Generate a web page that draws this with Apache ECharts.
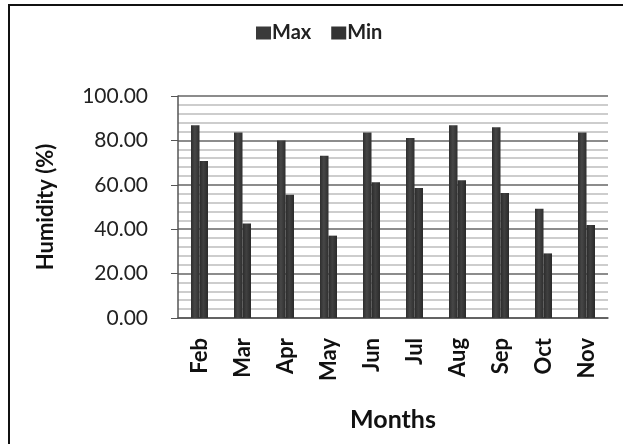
<!DOCTYPE html>
<html>
<head>
<meta charset="utf-8">
<script src="https://cdn.jsdelivr.net/npm/echarts@6/dist/echarts.min.js"></script>
<style>
  html, body { margin: 0; padding: 0; background: #fff; }
  #frame { position: absolute; left: 8px; top: 4px; width: 640px; height: 460px; border: 2px solid #111; box-sizing: border-box; }
  #chart { position: absolute; left: 0; top: 0; width: 623px; height: 444px; }
</style>
</head>
<body>
<div id="frame"></div>
<div id="chart"></div>
<script>
// Monthly relative humidity, maximum and minimum (%)
const months = ['Feb', 'Mar', 'Apr', 'May', 'Jun', 'Jul', 'Aug', 'Sep', 'Oct', 'Nov'];
const maxHumidity = [86.8, 83.6, 79.9, 73.1, 83.6, 81.1, 86.8, 85.9, 49.2, 83.6];
const minHumidity = [70.7, 42.6, 55.5, 37.1, 61.1, 58.6, 62.0, 56.3, 29.1, 41.9];

const font = 'Lato, "Open Sans", "DejaVu Sans", sans-serif';

function barFill(edge, mid) {
  return new echarts.graphic.LinearGradient(0, 0, 1, 0, [
    { offset: 0, color: edge },
    { offset: 0.45, color: mid },
    { offset: 1, color: edge }
  ]);
}

const chart = echarts.init(document.getElementById('chart'), null, { renderer: 'canvas' });
chart.setOption({
  animation: false,
  backgroundColor: 'transparent',
  legend: {
    top: 18,
    left: 251,
    itemWidth: 15,
    itemHeight: 13,
    itemGap: 20,
    icon: 'rect',
    textStyle: { fontFamily: font, fontSize: 20, fontWeight: 'bold', color: '#222', padding: [0, 0, 0, -4] },
    data: [
      { name: 'Max', itemStyle: { color: '#3a3a3a' } },
      { name: 'Min', itemStyle: { color: '#333333' } }
    ]
  },
  grid: { left: 178, right: 15, top: 96, bottom: 126, containLabel: false },
  xAxis: {
    type: 'category',
    data: months,
    name: 'Months',
    nameLocation: 'middle',
    nameGap: 89,
    nameTextStyle: { fontFamily: font, fontSize: 25, fontWeight: 'bold', color: '#111' },
    axisLine: { lineStyle: { color: '#555', width: 1.5 } },
    axisTick: { show: false },
    axisLabel: {
      rotate: 90,
      margin: 20,
      fontFamily: font,
      fontSize: 22,
      fontWeight: 'bold',
      color: '#111'
    }
  },
  yAxis: {
    type: 'value',
    min: 0,
    max: 100,
    interval: 20,
    name: 'Humidity (%)',
    nameLocation: 'middle',
    nameGap: 121,
    nameRotate: 90,
    nameTextStyle: { fontFamily: font, fontSize: 22, fontWeight: 'bold', color: '#111' },
    axisLine: { show: true, lineStyle: { color: '#555', width: 1.5 } },
    axisTick: { show: true, length: 7, lineStyle: { color: '#555' } },
    minorTick: { show: true, splitNumber: 5, length: 0 },
    axisLabel: {
      margin: 30,
      fontFamily: font,
      fontSize: 21,
      color: '#222',
      formatter: v => v.toFixed(2)
    },
    splitLine: { lineStyle: { color: '#666', width: 1.5 } },
    minorSplitLine: { show: true, lineStyle: { color: '#bdbdbd', width: 1.5 } }
  },
  series: [
    {
      name: 'Max',
      type: 'bar',
      data: maxHumidity,
      barWidth: 8.5,
      barGap: '0%',
      itemStyle: { color: barFill('#2e2e2e', '#474747') }
    },
    {
      name: 'Min',
      type: 'bar',
      data: minHumidity,
      barWidth: 8.5,
      itemStyle: { color: barFill('#2a2a2a', '#404040') }
    }
  ]
});
</script>
</body>
</html>
